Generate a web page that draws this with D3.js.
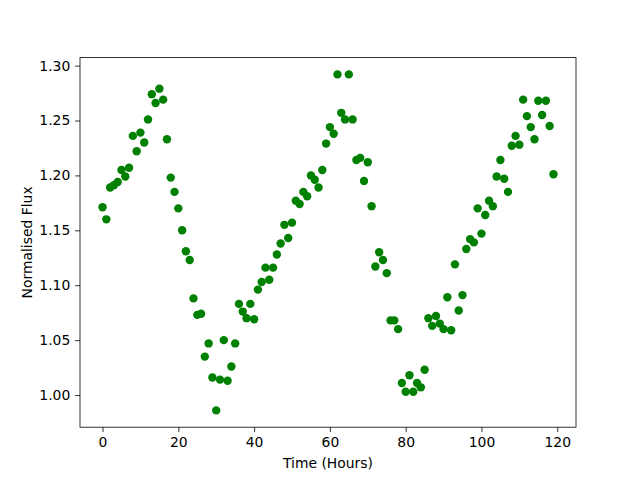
<!DOCTYPE html>
<html><head><meta charset="utf-8">
<script src="https://cdn.jsdelivr.net/npm/d3@7"></script>
<style>body{margin:0;background:#fff}text{font-family:"DejaVu Sans",sans-serif}</style>
</head><body><svg id="c" width="640" height="480"></svg>
<script>
const hours = d3.range(0, 120);
const flux = [
1.171,1.160,1.189,1.191,1.194,1.205,1.199,1.207,1.236,1.222,
1.239,1.230,1.251,1.274,1.266,1.279,1.269,1.233,1.198,1.185,
1.170,1.150,1.131,1.123,1.088,1.073,1.074,1.035,1.047,1.016,
0.986,1.014,1.050,1.013,1.026,1.047,1.083,1.076,1.070,1.083,
1.069,1.096,1.103,1.116,1.105,1.116,1.128,1.138,1.155,1.143,
1.157,1.177,1.174,1.185,1.181,1.200,1.196,1.189,1.205,1.229,
1.244,1.238,1.292,1.257,1.251,1.292,1.251,1.214,1.216,1.195,
1.212,1.172,1.117,1.130,1.123,1.111,1.068,1.068,1.060,1.011,
1.003,1.018,1.003,1.011,1.007,1.023,1.070,1.063,1.072,1.065,
1.060,1.089,1.059,1.119,1.077,1.091,1.133,1.142,1.139,1.170,
1.147,1.164,1.177,1.172,1.199,1.214,1.197,1.185,1.227,1.236,
1.228,1.269,1.254,1.244,1.233,1.268,1.255,1.268,1.245,1.201];
const xTicks = [0,20,40,60,80,100,120];
const yTicks = [1.00,1.05,1.10,1.15,1.20,1.25,1.30];
const xLabel = "Time (Hours)", yLabel = "Normalised Flux";

const L=80,R=576,T=57.6,B=427.2;
const svg=d3.select("#c");
const xmin=d3.min(hours),xmax=d3.max(hours),ymin=d3.min(flux),ymax=d3.max(flux);
const xm=(xmax-xmin)*0.05, ym=(ymax-ymin)*0.05;
const x=d3.scaleLinear().domain([xmin-xm,xmax+xm]).range([L,R]);
const y=d3.scaleLinear().domain([ymin-ym,ymax+ym]).range([B,T]);

const xa=svg.append("g").attr("transform",`translate(0,${B})`)
 .call(d3.axisBottom(x).tickValues(xTicks).tickFormat(d3.format("d")).tickSizeInner(4.86).tickSizeOuter(0).tickPadding(4.86));
const ya=svg.append("g").attr("transform",`translate(${L},0)`)
 .call(d3.axisLeft(y).tickValues(yTicks).tickFormat(d3.format(".2f")).tickSizeInner(4.86).tickSizeOuter(0).tickPadding(4.86));
[xa,ya].forEach(a=>{a.select(".domain").remove();a.selectAll("text").attr("font-size","13.9px").attr("fill","#000").style("font-family","DejaVu Sans");a.selectAll("line").attr("stroke","#000").attr("stroke-width",0.8);});

svg.append("g").selectAll("circle").data(hours).join("circle")
 .attr("cx",(d)=>x(d)).attr("cy",(d,i)=>y(flux[i])).attr("r",4.2).attr("fill","#008000");

svg.append("rect").attr("x",L).attr("y",T).attr("width",R-L).attr("height",B-T)
 .attr("fill","none").attr("stroke","#000").attr("stroke-width",0.8);

svg.append("text").attr("x",(L+R)/2).attr("y",468).attr("text-anchor","middle").attr("font-size","13.9px").text(xLabel);
svg.append("text").attr("transform",`translate(32,${(T+B)/2}) rotate(-90)`).attr("text-anchor","middle").attr("font-size","13.9px").text(yLabel);
</script></body></html>
